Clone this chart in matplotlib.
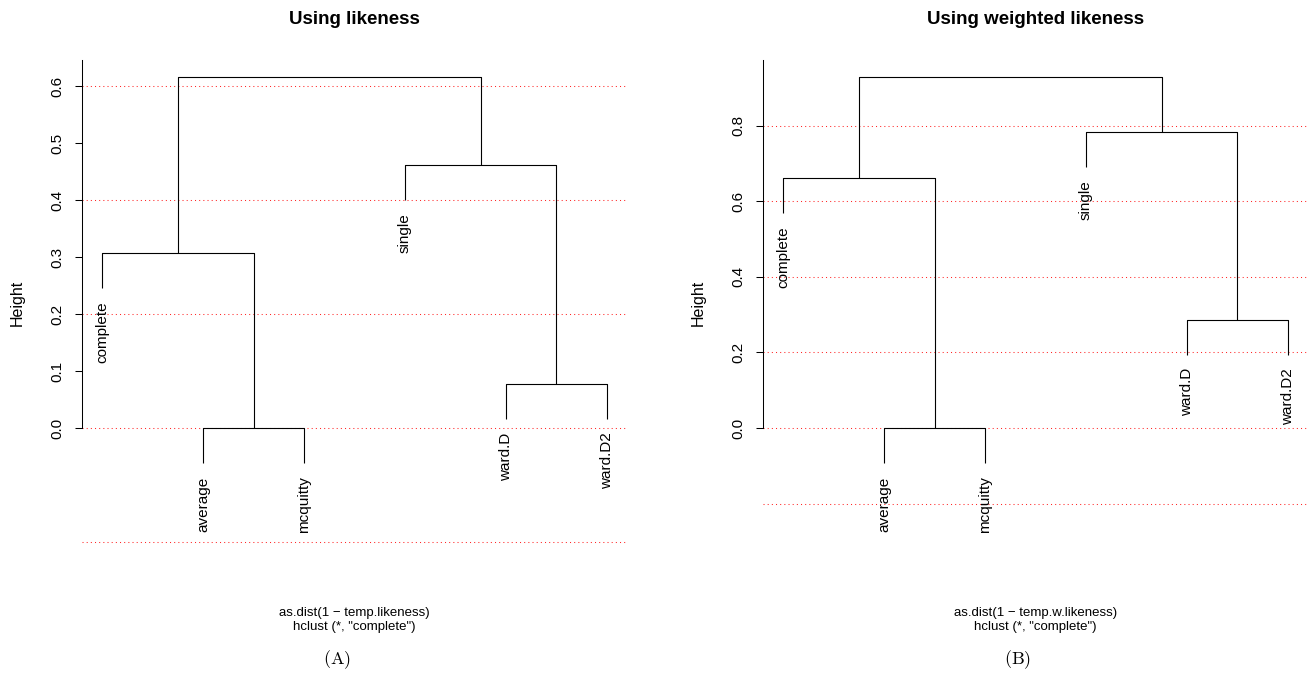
import matplotlib
matplotlib.use("Agg")
import matplotlib.pyplot as plt
import numpy as np

plt.rcParams['font.family'] = ['Liberation Sans', 'DejaVu Sans']
plt.rcParams['mathtext.fontset'] = 'cm'

# Leaf labels in plotting order (same for both trees)
leaf_labels = ["complete", "average", "mcquitty", "single", "ward.D", "ward.D2"]

# hclust-style merge tables: negative = leaf (1-based, plotting order), positive = earlier merge
merge_a = [[-2, -3], [-5, -6], [-1, 1], [-4, 2], [3, 4]]
height_a = [0.0, 0.077, 0.307, 0.461, 0.616]

merge_b = [[-2, -3], [-5, -6], [-1, 1], [-4, 2], [3, 4]]
height_b = [0.0, 0.286, 0.661, 0.783, 0.929]

# Axis ticks and reference lines
ticks_a = [0.0, 0.1, 0.2, 0.3, 0.4, 0.5, 0.6]
ticks_b = [0.0, 0.2, 0.4, 0.6, 0.8]
guides_a = [-0.2, 0.0, 0.2, 0.4, 0.6]
guides_b = [-0.2, 0.0, 0.2, 0.4, 0.6, 0.8]

titles = ["Using likeness", "Using weighted likeness"]
xlabels = ["as.dist(1 \u2212 temp.likeness)", "as.dist(1 \u2212 temp.w.likeness)"]
sublabel = 'hclust (*, "complete")'
captions = [r"$(\mathrm{A})$", r"$(\mathrm{B})$"]

W, H = 1307, 680
fig = plt.figure(figsize=(W / 100, H / 100), dpi=100)

# pixel layout of the two plot regions
ax_left_px = [82, 763]
ax_w_px = 545
ax_top_px, ax_bot_px, zero_px = 60, 545, 428
caption_x_px = [337, 1018]


def draw_dendrogram(ax, merges, heights, labels):
    hmax = max(heights)
    hang = 0.1 * hmax
    n = len(labels)
    leaf_x = np.arange(1, n + 1)
    node_x, node_y = {}, {}

    def child(c):
        if c < 0:
            i = -c - 1
            return leaf_x[i], heights_leaf[i]
        return node_x[c], node_y[c]

    # leaf end heights: hang below the merge that first joins each leaf
    heights_leaf = np.zeros(n)
    for k, (a, b) in enumerate(merges):
        for c in (a, b):
            if c < 0:
                heights_leaf[-c - 1] = heights[k] - hang

    for k, (a, b) in enumerate(merges):
        h = heights[k]
        xa, ya = child(a)
        xb, yb = child(b)
        ax.plot([xa, xa, xb, xb], [ya, h, h, yb], color="black", lw=0.8,
                solid_capstyle="butt", clip_on=False, zorder=3)
        node_x[k + 1] = (xa + xb) / 2
        node_y[k + 1] = h

    for i, lab in enumerate(labels):
        ax.annotate(lab, xy=(leaf_x[i], heights_leaf[i]), xytext=(0, -9.5),
                    textcoords="offset points", rotation=90, ha="center",
                    va="top", fontsize=11, annotation_clip=False)
    return hmax


panels = [
    (merge_a, height_a, ticks_a, guides_a),
    (merge_b, height_b, ticks_b, guides_b),
]

for p, (merges, heights, ticks, guides) in enumerate(panels):
    x0 = ax_left_px[p]
    ax = fig.add_axes([x0 / W, 1 - ax_bot_px / H, ax_w_px / W,
                       (ax_bot_px - ax_top_px) / H])
    hmax = draw_dendrogram(ax, merges, heights, leaf_labels)
    top = 1.048 * hmax
    bottom = -top * (ax_bot_px - zero_px) / (zero_px - ax_top_px)
    ax.set_ylim(bottom, top)
    ax.set_xlim(0.8, 6.2)

    for g in guides:
        ax.axhline(g, color="red", alpha=0.85, lw=0.75,
                   linestyle=(0, (1, 3)), zorder=1)

    for s in ("top", "right", "bottom"):
        ax.spines[s].set_visible(False)
    ax.spines["left"].set_bounds(0, top)
    ax.spines["left"].set_linewidth(0.75)
    ax.set_xticks([])
    ax.set_yticks(ticks)
    ax.set_yticklabels([f"{t:.1f}" for t in ticks], rotation=90,
                       va="center", ha="right")
    ax.tick_params(axis="y", length=5, width=0.75, pad=8, labelsize=11)

    cx = x0 + ax_w_px / 2
    fig.text(cx / W, 1 - 20 / H, titles[p], ha="center", va="center",
             fontsize=13.5, fontweight="bold")
    fig.text((x0 - 65) / W, 1 - 303 / H, "Height", rotation=90,
             ha="center", va="center", fontsize=11.5)
    fig.text(cx / W, 1 - 613 / H, xlabels[p], ha="center", va="center",
             fontsize=9.5)
    fig.text(cx / W, 1 - 627 / H, sublabel, ha="center", va="center",
             fontsize=9.5)
    fig.text(caption_x_px[p] / W, 1 - 660 / H, captions[p], ha="center",
             va="center", fontsize=13)

fig.savefig("out.png", dpi=100)
